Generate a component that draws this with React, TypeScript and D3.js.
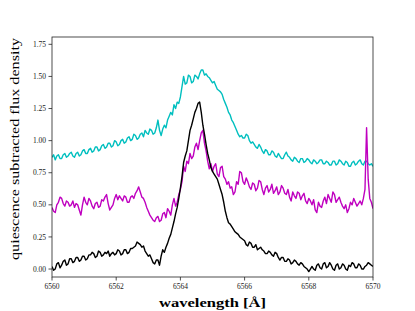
import React from "react";
import * as d3 from "d3";

// wavelength grid (Å), 6560.00 .. 6570.00 step 0.05
const wavelengths: number[] = Array.from({ length: 201 }, (_, i) => +(6560 + i * 0.05).toFixed(2));

const cyanFlux: number[] = [
  0.87, 0.89, 0.85, 0.88, 0.89, 0.86, 0.86, 0.89, 0.90, 0.87, 0.88, 0.90, 0.91, 0.88, 0.87, 0.90, 0.91, 0.88, 0.89, 0.92,
  0.93, 0.90, 0.90, 0.93, 0.94, 0.91, 0.92, 0.95, 0.95, 0.92, 0.93, 0.96, 0.97, 0.94, 0.95, 0.98, 0.98, 0.95, 0.96, 1.00,
  0.99, 0.96, 0.97, 1.00, 1.01, 0.98, 0.99, 1.02, 1.03, 1.00, 1.01, 1.05, 1.04, 1.01, 1.02, 1.05, 1.06, 1.03, 1.08, 1.06,
  1.05, 1.09, 1.08, 1.05, 1.06, 1.10, 1.16, 1.08, 1.04, 1.09, 1.12, 1.10, 1.16, 1.19, 1.22, 1.20, 1.28, 1.25, 1.30, 1.29,
  1.34, 1.42, 1.50, 1.44, 1.45, 1.51, 1.50, 1.45, 1.46, 1.51, 1.50, 1.48, 1.52, 1.55, 1.55, 1.51, 1.52, 1.50, 1.49, 1.47,
  1.45, 1.46, 1.43, 1.40, 1.39, 1.38, 1.36, 1.32, 1.29, 1.26, 1.22, 1.20, 1.16, 1.14, 1.11, 1.08, 1.05, 1.03, 1.04, 1.02,
  1.02, 1.05, 1.04, 1.00, 0.98, 0.99, 0.97, 0.95, 0.94, 0.97, 0.95, 0.92, 0.90, 0.93, 0.92, 0.89, 0.89, 0.92, 0.91, 0.88,
  0.87, 0.90, 0.88, 0.86, 0.86, 0.89, 0.91, 0.88, 0.87, 0.85, 0.84, 0.87, 0.86, 0.84, 0.83, 0.86, 0.86, 0.83, 0.84, 0.86,
  0.85, 0.83, 0.82, 0.85, 0.84, 0.82, 0.83, 0.85, 0.85, 0.82, 0.82, 0.84, 0.83, 0.81, 0.81, 0.84, 0.84, 0.81, 0.82, 0.85,
  0.84, 0.82, 0.81, 0.84, 0.83, 0.80, 0.80, 0.83, 0.84, 0.81, 0.82, 0.84, 0.85, 0.82, 0.81, 0.84, 0.84, 0.82, 0.81, 0.82,
  0.80,
];

const magentaFlux: number[] = [
  0.48, 0.45, 0.44, 0.50, 0.52, 0.56, 0.55, 0.51, 0.49, 0.53, 0.52, 0.49, 0.50, 0.53, 0.48, 0.51, 0.50, 0.46, 0.42, 0.50,
  0.56, 0.52, 0.50, 0.55, 0.53, 0.49, 0.47, 0.51, 0.52, 0.48, 0.49, 0.54, 0.53, 0.56, 0.58, 0.51, 0.46, 0.48, 0.50, 0.55,
  0.58, 0.54, 0.57, 0.55, 0.53, 0.57, 0.56, 0.52, 0.52, 0.56, 0.57, 0.55, 0.59, 0.61, 0.64, 0.60, 0.56, 0.55, 0.52, 0.48,
  0.45, 0.42, 0.40, 0.38, 0.37, 0.40, 0.41, 0.37, 0.38, 0.43, 0.44, 0.40, 0.47, 0.45, 0.42, 0.50, 0.55, 0.49, 0.52, 0.58,
  0.62, 0.68, 0.80, 0.76, 0.84, 0.82, 0.90, 0.86, 0.88, 0.95, 0.98, 0.93, 1.00, 1.06, 1.08, 0.98, 0.92, 0.84, 0.78, 0.82,
  0.76, 0.80, 0.82, 0.74, 0.72, 0.79, 0.80, 0.72, 0.70, 0.66, 0.68, 0.63, 0.64, 0.58, 0.60, 0.68, 0.66, 0.76, 0.75, 0.68,
  0.66, 0.71, 0.68, 0.64, 0.62, 0.67, 0.66, 0.61, 0.63, 0.69, 0.68, 0.62, 0.58, 0.63, 0.65, 0.60, 0.62, 0.66, 0.59, 0.61,
  0.64, 0.58, 0.60, 0.65, 0.63, 0.59, 0.58, 0.62, 0.56, 0.53, 0.60, 0.57, 0.55, 0.60, 0.59, 0.54, 0.57, 0.59, 0.53, 0.51,
  0.55, 0.53, 0.50, 0.54, 0.46, 0.44, 0.52, 0.49, 0.48, 0.53, 0.56, 0.51, 0.58, 0.55, 0.52, 0.60, 0.58, 0.52, 0.54, 0.56,
  0.52, 0.49, 0.47, 0.50, 0.44, 0.47, 0.52, 0.50, 0.55, 0.52, 0.49, 0.51, 0.53, 0.50, 0.55, 0.62, 1.10, 0.70, 0.55, 0.52,
  0.47,
];

const blackFlux: number[] = [
  0.02, -0.01, 0.00, 0.04, 0.05, 0.01, 0.03, 0.06, 0.07, 0.03, 0.04, 0.08, 0.08, 0.05, 0.06, 0.09, 0.09, 0.06, 0.07, 0.10,
  0.10, 0.07, 0.08, 0.11, 0.11, 0.13, 0.12, 0.09, 0.10, 0.14, 0.13, 0.10, 0.11, 0.13, 0.12, 0.14, 0.10, 0.12, 0.13, 0.11,
  0.12, 0.15, 0.14, 0.11, 0.12, 0.15, 0.15, 0.12, 0.13, 0.16, 0.16, 0.17, 0.18, 0.21, 0.20, 0.19, 0.17, 0.18, 0.14, 0.12,
  0.10, 0.11, 0.08, 0.05, 0.04, 0.07, 0.07, 0.03, 0.10, 0.15, 0.13, 0.17, 0.20, 0.24, 0.27, 0.32, 0.37, 0.43, 0.48, 0.55,
  0.63, 0.72, 0.83, 0.88, 0.92, 1.00, 1.08, 1.12, 1.17, 1.22, 1.25, 1.29, 1.30, 1.22, 1.12, 1.05, 0.97, 0.90, 0.85, 0.79,
  0.76, 0.74, 0.72, 0.70, 0.66, 0.62, 0.58, 0.52, 0.45, 0.40, 0.36, 0.35, 0.33, 0.31, 0.29, 0.28, 0.27, 0.25, 0.24, 0.23,
  0.22, 0.19, 0.18, 0.21, 0.20, 0.17, 0.17, 0.19, 0.15, 0.16, 0.17, 0.15, 0.14, 0.12, 0.12, 0.14, 0.13, 0.11, 0.10, 0.13,
  0.12, 0.09, 0.07, 0.09, 0.09, 0.06, 0.06, 0.08, 0.07, 0.04, 0.05, 0.07, 0.06, 0.04, 0.03, 0.05, 0.04, 0.02, 0.01, 0.00,
  -0.02, 0.00, 0.02, 0.00, -0.01, 0.03, 0.04, 0.01, 0.00, 0.04, 0.05, 0.01, 0.02, 0.05, 0.03, 0.00, -0.01, 0.03, 0.04, 0.00,
  0.01, 0.04, 0.03, 0.00, -0.01, 0.03, 0.02, 0.05, 0.04, 0.01, 0.01, 0.04, 0.03, 0.00, 0.00, 0.02, 0.03, 0.05, 0.04, 0.03,
  0.02,
];

const xTicks: number[] = [6560, 6562, 6564, 6566, 6568, 6570];
const yTicks: number[] = [0, 0.25, 0.5, 0.75, 1.0, 1.25, 1.5, 1.75];

const series = [
  { name: "cyan", values: cyanFlux, color: "#00BFBF" },
  { name: "magenta", values: magentaFlux, color: "#BF00BF" },
  { name: "black", values: blackFlux, color: "#000000" },
];

const W = 415;
const H = 311;
const left = 52;
const right = 373;
const top = 37;
const bottom = 277;

export default function App() {
  const x = d3.scaleLinear().domain([6560, 6570]).range([left, right]);
  const y = d3.scaleLinear().domain([-0.062, 1.807]).range([bottom, top]);
  const line = d3
    .line<number>()
    .x((_, i) => x(wavelengths[i]))
    .y((d) => y(d));
  const font = "'Liberation Serif', 'DejaVu Serif', serif";
  return (
    <svg
      width={W}
      height={H}
      style={{ position: "absolute", left: 0, top: 0, background: "#fff" }}
      fontFamily={font}
    >
      <rect x={0} y={0} width={W} height={H} fill="#fff" />
      <defs>
        <clipPath id="plotclip">
          <rect x={left} y={top} width={right - left} height={bottom - top} />
        </clipPath>
      </defs>
      <g clipPath="url(#plotclip)">
        {series.map((s) => (
          <path
            key={s.name}
            d={line(s.values) || ""}
            fill="none"
            stroke={s.color}
            strokeWidth={1.4}
            strokeLinejoin="round"
          />
        ))}
      </g>
      <rect
        x={left}
        y={top}
        width={right - left}
        height={bottom - top}
        fill="none"
        stroke="#222"
        strokeWidth={0.8}
      />
      {xTicks.map((t) => (
        <g key={t}>
          <line x1={x(t)} x2={x(t)} y1={bottom} y2={bottom + 3.5} stroke="#222" strokeWidth={0.8} />
          <text x={x(t)} y={bottom + 11.5} fontSize={7.5} textAnchor="middle" fill="#222">
            {t}
          </text>
        </g>
      ))}
      {yTicks.map((t) => (
        <g key={t}>
          <line x1={left - 3.5} x2={left} y1={y(t)} y2={y(t)} stroke="#222" strokeWidth={0.8} />
          <text x={left - 6} y={y(t) + 2.6} fontSize={7.5} textAnchor="end" fill="#222">
            {t.toFixed(2)}
          </text>
        </g>
      ))}
      <text
        x={(left + right) / 2}
        y={307}
        fontSize={13.5}
        fontWeight="bold"
        textAnchor="middle"
        textLength={107}
        lengthAdjust="spacingAndGlyphs"
      >
        wavelength [Å]
      </text>
      <text
        transform={`translate(19, ${(top + bottom) / 2 - 8}) rotate(-90)`}
        fontSize={13}
        textAnchor="middle"
        textLength={222}
        lengthAdjust="spacingAndGlyphs"
      >
        quiescence subtracted flux density
      </text>
    </svg>
  );
}
